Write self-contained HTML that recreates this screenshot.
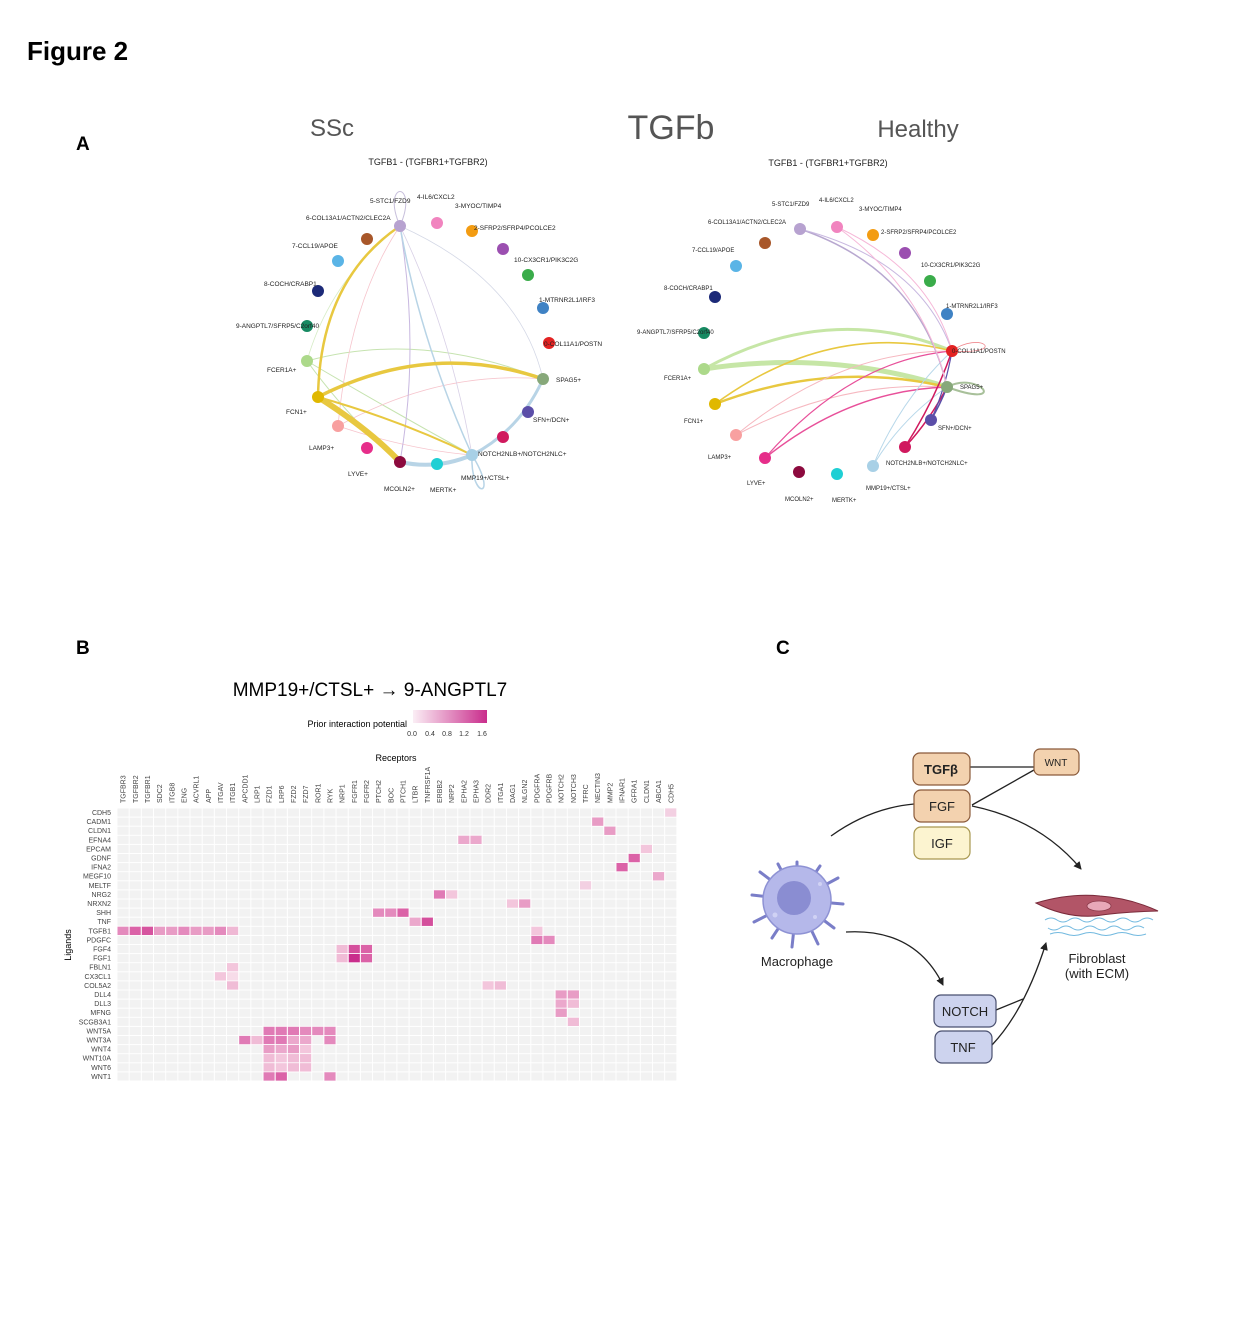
<!DOCTYPE html>
<html><head><meta charset="utf-8"><style>
html,body{margin:0;padding:0;background:#fff;}
svg{display:block;font-family:"Liberation Sans",sans-serif;}
</style></head><body>
<svg width="1248" height="1344" viewBox="0 0 1248 1344" xmlns="http://www.w3.org/2000/svg">
<defs>
<pattern id="grid" x="117" y="808" width="12.17" height="9.1" patternUnits="userSpaceOnUse">
<rect width="12.17" height="9.1" fill="#f2f2f2" stroke="#fff" stroke-width="1"/>
</pattern>
<linearGradient id="lg" x1="0" x2="1"><stop offset="0" stop-color="#fbeef5"/><stop offset="1" stop-color="#c92d8c"/></linearGradient>
<marker id="ar" markerWidth="8" markerHeight="8" refX="7" refY="4" orient="auto" markerUnits="userSpaceOnUse"><path d="M0,0 L8,4 L0,8 Z" fill="#222"/></marker>
</defs>

<text x="27" y="60" font-size="26" font-weight="bold">Figure 2</text>
<text x="76" y="150" font-size="19" font-weight="bold">A</text>
<text x="76" y="654" font-size="19" font-weight="bold">B</text>
<text x="776" y="654" font-size="19" font-weight="bold">C</text>

<text x="332" y="136" font-size="24" fill="#555" text-anchor="middle">SSc</text>
<text x="671" y="139" font-size="34" fill="#555" text-anchor="middle">TGFb</text>
<text x="918" y="137" font-size="24" fill="#555" text-anchor="middle">Healthy</text>

<!-- LEFT NETWORK -->
<g font-size="6.5" fill="#222">
<text x="428" y="165" font-size="9" text-anchor="middle">TGFB1 - (TGFBR1+TGFBR2)</text>
<g fill="none" stroke-linecap="round">
<path d="M400,226 C380,180 420,180 400,226" stroke="#c8c0dc" stroke-width="1"/>
<path d="M472,455 C470,500 500,500 472,455" stroke="#b8d4e6" stroke-width="1.5"/>
<path d="M307,361 Q420,330 543,379" stroke="#c6e3b0" stroke-width="1"/>
<path d="M307,361 Q390,410 472,455" stroke="#c6e3b0" stroke-width="1"/>
<path d="M307,361 Q350,420 400,462" stroke="#c6e3b0" stroke-width="1"/>
<path d="M307,361 Q330,280 400,226" stroke="#d6ecc6" stroke-width="0.8"/>
<path d="M338,426 Q440,370 543,379" stroke="#f6c4cc" stroke-width="0.8"/>
<path d="M338,426 Q410,450 472,455" stroke="#f6c4cc" stroke-width="0.8"/>
<path d="M338,426 Q350,300 400,226" stroke="#f6c4cc" stroke-width="0.8"/>
<path d="M400,226 Q520,280 543,379" stroke="#d4d8e6" stroke-width="0.8"/>
<path d="M400,226 Q450,330 472,455" stroke="#d8d0e6" stroke-width="0.8"/>
<path d="M400,226 Q420,350 400,462" stroke="#c8b8e0" stroke-width="1"/>
<path d="M400,226 Q420,340 472,455" stroke="#b8d4e6" stroke-width="1.5"/>
<path d="M318,397 Q320,280 400,226" stroke="#e8c840" stroke-width="2.5"/>
<path d="M318,397 Q430,340 543,379" stroke="#e8c840" stroke-width="3.5"/>
<path d="M318,397 Q370,430 400,462" stroke="#e8c840" stroke-width="6"/>
<path d="M318,397 Q400,420 472,455" stroke="#e8c840" stroke-width="2"/>
<path d="M472,455 Q520,430 543,379" stroke="#b8d4e6" stroke-width="3"/>
<path d="M400,462 Q437,470 472,455" stroke="#b8d4e6" stroke-width="4"/>
</g>
<circle cx="400" cy="226" r="6" fill="#b7a2d0"/>
<circle cx="437" cy="223" r="6" fill="#f184bf"/>
<circle cx="472" cy="231" r="6" fill="#f39c12"/>
<circle cx="503" cy="249" r="6" fill="#9b4fb0"/>
<circle cx="528" cy="275" r="6" fill="#3aac4a"/>
<circle cx="543" cy="308" r="6" fill="#3f82c4"/>
<circle cx="549" cy="343" r="6" fill="#e32222"/>
<circle cx="543" cy="379" r="6" fill="#87a87a"/>
<circle cx="528" cy="412" r="6" fill="#5b4ea8"/>
<circle cx="503" cy="437" r="6" fill="#d0195e"/>
<circle cx="472" cy="455" r="6" fill="#a8d0e6"/>
<circle cx="437" cy="464" r="6" fill="#1fcfd4"/>
<circle cx="400" cy="462" r="6" fill="#8c0a3e"/>
<circle cx="367" cy="448" r="6" fill="#e62e8a"/>
<circle cx="338" cy="426" r="6" fill="#f8a0a0"/>
<circle cx="318" cy="397" r="6" fill="#e0b800"/>
<circle cx="307" cy="361" r="6" fill="#acd98a"/>
<circle cx="307" cy="326" r="6" fill="#178a62"/>
<circle cx="318" cy="291" r="6" fill="#1c2a78"/>
<circle cx="338" cy="261" r="6" fill="#5ab4e6"/>
<circle cx="367" cy="239" r="6" fill="#a8572a"/>
<text x="370" y="203">5-STC1/FZD9</text>
<text x="417" y="199">4-IL6/CXCL2</text>
<text x="455" y="208">3-MYOC/TIMP4</text>
<text x="474" y="230">2-SFRP2/SFRP4/PCOLCE2</text>
<text x="514" y="262">10-CX3CR1/PIK3C2G</text>
<text x="539" y="302">1-MTRNR2L1/IRF3</text>
<text x="544" y="346">0-COL11A1/POSTN</text>
<text x="556" y="382">SPAG5+</text>
<text x="533" y="422">SFN+/DCN+</text>
<text x="478" y="456">NOTCH2NLB+/NOTCH2NLC+</text>
<text x="461" y="480">MMP19+/CTSL+</text>
<text x="430" y="492">MERTK+</text>
<text x="384" y="491">MCOLN2+</text>
<text x="348" y="476">LYVE+</text>
<text x="309" y="450">LAMP3+</text>
<text x="286" y="414">FCN1+</text>
<text x="267" y="372">FCER1A+</text>
<text x="236" y="328">9-ANGPTL7/SFRP5/C2orf40</text>
<text x="264" y="286">8-COCH/CRABP1</text>
<text x="292" y="248">7-CCL19/APOE</text>
<text x="306" y="220">6-COL13A1/ACTN2/CLEC2A</text>
</g>

<!-- RIGHT NETWORK -->
<g font-size="6" fill="#222">
<text x="828" y="166" font-size="9" text-anchor="middle">TGFB1 - (TGFBR1+TGFBR2)</text>
<g fill="none" stroke-linecap="round">
<path d="M952,351 C980,330 1010,355 952,351" stroke="#f08a90" stroke-width="0.8"/>
<path d="M947,387 C980,370 1010,410 947,387" stroke="#a8c09a" stroke-width="2"/>
<path d="M704,369 Q830,300 952,351" stroke="#c6e6a6" stroke-width="3"/>
<path d="M704,369 Q830,350 947,387" stroke="#c6e6a6" stroke-width="5"/>
<path d="M715,404 Q830,320 952,351" stroke="#e8c840" stroke-width="1.6"/>
<path d="M715,404 Q830,360 947,387" stroke="#e8c840" stroke-width="2.5"/>
<path d="M736,435 Q840,350 952,351" stroke="#f6b8c0" stroke-width="1"/>
<path d="M736,435 Q840,380 947,387" stroke="#f6b8c0" stroke-width="1"/>
<path d="M765,458 Q850,360 952,351" stroke="#e8509a" stroke-width="1.2"/>
<path d="M765,458 Q850,390 947,387" stroke="#e8509a" stroke-width="1.5"/>
<path d="M873,466 Q900,400 952,351" stroke="#b8d8ea" stroke-width="1"/>
<path d="M873,466 Q900,420 947,387" stroke="#b8d8ea" stroke-width="1"/>
<path d="M905,447 Q935,400 952,351" stroke="#d0195e" stroke-width="1.5"/>
<path d="M905,447 Q930,420 947,387" stroke="#d0195e" stroke-width="1.5"/>
<path d="M931,420 Q945,390 952,351" stroke="#5b4ea8" stroke-width="1.2"/>
<path d="M931,420 Q940,405 947,387" stroke="#5b4ea8" stroke-width="1.5"/>
<path d="M800,229 Q920,270 947,387" stroke="#b8a8d0" stroke-width="1.5"/>
<path d="M800,229 Q920,260 952,351" stroke="#c8b8e0" stroke-width="1"/>
<path d="M837,227 Q930,270 952,351" stroke="#f6b8d8" stroke-width="1"/>
<path d="M837,227 Q925,290 947,387" stroke="#f6b8d8" stroke-width="1"/>
</g>
<circle cx="800" cy="229" r="6" fill="#b7a2d0"/>
<circle cx="837" cy="227" r="6" fill="#f184bf"/>
<circle cx="873" cy="235" r="6" fill="#f39c12"/>
<circle cx="905" cy="253" r="6" fill="#9b4fb0"/>
<circle cx="930" cy="281" r="6" fill="#3aac4a"/>
<circle cx="947" cy="314" r="6" fill="#3f82c4"/>
<circle cx="952" cy="351" r="6" fill="#e32222"/>
<circle cx="947" cy="387" r="6" fill="#87a87a"/>
<circle cx="931" cy="420" r="6" fill="#5b4ea8"/>
<circle cx="905" cy="447" r="6" fill="#d0195e"/>
<circle cx="873" cy="466" r="6" fill="#a8d0e6"/>
<circle cx="837" cy="474" r="6" fill="#1fcfd4"/>
<circle cx="799" cy="472" r="6" fill="#8c0a3e"/>
<circle cx="765" cy="458" r="6" fill="#e62e8a"/>
<circle cx="736" cy="435" r="6" fill="#f8a0a0"/>
<circle cx="715" cy="404" r="6" fill="#e0b800"/>
<circle cx="704" cy="369" r="6" fill="#acd98a"/>
<circle cx="704" cy="333" r="6" fill="#178a62"/>
<circle cx="715" cy="297" r="6" fill="#1c2a78"/>
<circle cx="736" cy="266" r="6" fill="#5ab4e6"/>
<circle cx="765" cy="243" r="6" fill="#a8572a"/>
<text x="772" y="206">5-STC1/FZD9</text>
<text x="819" y="202">4-IL6/CXCL2</text>
<text x="859" y="211">3-MYOC/TIMP4</text>
<text x="881" y="234">2-SFRP2/SFRP4/PCOLCE2</text>
<text x="921" y="267">10-CX3CR1/PIK3C2G</text>
<text x="946" y="308">1-MTRNR2L1/IRF3</text>
<text x="952" y="353">0-COL11A1/POSTN</text>
<text x="960" y="389">SPAG5+</text>
<text x="938" y="430">SFN+/DCN+</text>
<text x="886" y="465">NOTCH2NLB+/NOTCH2NLC+</text>
<text x="866" y="490">MMP19+/CTSL+</text>
<text x="832" y="502">MERTK+</text>
<text x="785" y="501">MCOLN2+</text>
<text x="747" y="485">LYVE+</text>
<text x="708" y="459">LAMP3+</text>
<text x="684" y="423">FCN1+</text>
<text x="664" y="380">FCER1A+</text>
<text x="637" y="334">9-ANGPTL7/SFRP5/C2orf40</text>
<text x="664" y="290">8-COCH/CRABP1</text>
<text x="692" y="252">7-CCL19/APOE</text>
<text x="708" y="224">6-COL13A1/ACTN2/CLEC2A</text>
</g>

<!-- PANEL B heatmap -->
<text x="370" y="696" font-size="19" text-anchor="middle">MMP19+/CTSL+ → 9-ANGPTL7</text>
<text x="407" y="727" font-size="9" text-anchor="end">Prior interaction potential</text>
<rect x="413" y="710" width="74" height="13" fill="url(#lg)"/>
<g font-size="7" fill="#333" text-anchor="middle">
<text x="412" y="736">0.0</text><text x="430" y="736">0.4</text><text x="447" y="736">0.8</text><text x="464" y="736">1.2</text><text x="482" y="736">1.6</text>
</g>
<text x="396" y="761" font-size="9" text-anchor="middle">Receptors</text>
<text transform="translate(71,945) rotate(-90)" font-size="9" text-anchor="middle">Ligands</text>

<rect x="117" y="808" width="559.8" height="273" fill="url(#grid)"/>
<g transform="translate(117,808) scale(12.17,9.1)" stroke="#fff" stroke-width="0.08">
<rect x="45" y="0" width="1" height="1" fill="#f3d0e2"/>
<rect x="39" y="1" width="1" height="1" fill="#e89cc5"/>
<rect x="40" y="2" width="1" height="1" fill="#e89cc5"/>
<rect x="28" y="3" width="1" height="1" fill="#eba8cc"/>
<rect x="29" y="3" width="1" height="1" fill="#eba8cc"/>
<rect x="43" y="4" width="1" height="1" fill="#f3c6dc"/>
<rect x="42" y="5" width="1" height="1" fill="#db62a7"/>
<rect x="41" y="6" width="1" height="1" fill="#db62a7"/>
<rect x="44" y="7" width="1" height="1" fill="#eba8cc"/>
<rect x="38" y="8" width="1" height="1" fill="#f3d0e2"/>
<rect x="26" y="9" width="1" height="1" fill="#e07ab5"/>
<rect x="27" y="9" width="1" height="1" fill="#f3c6dc"/>
<rect x="32" y="10" width="1" height="1" fill="#f3c6dc"/>
<rect x="33" y="10" width="1" height="1" fill="#e89cc5"/>
<rect x="21" y="11" width="1" height="1" fill="#e48abd"/>
<rect x="22" y="11" width="1" height="1" fill="#e48abd"/>
<rect x="23" y="11" width="1" height="1" fill="#db62a7"/>
<rect x="24" y="12" width="1" height="1" fill="#eba8cc"/>
<rect x="25" y="12" width="1" height="1" fill="#d44f9c"/>
<rect x="0" y="13" width="1" height="1" fill="#e48abd"/>
<rect x="1" y="13" width="1" height="1" fill="#db62a7"/>
<rect x="2" y="13" width="1" height="1" fill="#d6549f"/>
<rect x="3" y="13" width="1" height="1" fill="#e89cc5"/>
<rect x="4" y="13" width="1" height="1" fill="#e89cc5"/>
<rect x="5" y="13" width="1" height="1" fill="#e48abd"/>
<rect x="6" y="13" width="1" height="1" fill="#e89cc5"/>
<rect x="7" y="13" width="1" height="1" fill="#e89cc5"/>
<rect x="8" y="13" width="1" height="1" fill="#e48abd"/>
<rect x="9" y="13" width="1" height="1" fill="#efb8d4"/>
<rect x="34" y="13" width="1" height="1" fill="#f3c6dc"/>
<rect x="34" y="14" width="1" height="1" fill="#e07ab5"/>
<rect x="35" y="14" width="1" height="1" fill="#e48abd"/>
<rect x="18" y="15" width="1" height="1" fill="#f0bcd6"/>
<rect x="19" y="15" width="1" height="1" fill="#d44f9c"/>
<rect x="20" y="15" width="1" height="1" fill="#db62a7"/>
<rect x="18" y="16" width="1" height="1" fill="#f0bcd6"/>
<rect x="19" y="16" width="1" height="1" fill="#c92d8c"/>
<rect x="20" y="16" width="1" height="1" fill="#db62a7"/>
<rect x="9" y="17" width="1" height="1" fill="#f3c6dc"/>
<rect x="8" y="18" width="1" height="1" fill="#f3c6dc"/>
<rect x="9" y="18" width="1" height="1" fill="#f7dce9"/>
<rect x="9" y="19" width="1" height="1" fill="#f0bcd6"/>
<rect x="30" y="19" width="1" height="1" fill="#f3c6dc"/>
<rect x="31" y="19" width="1" height="1" fill="#f0bcd6"/>
<rect x="36" y="20" width="1" height="1" fill="#e89cc5"/>
<rect x="37" y="20" width="1" height="1" fill="#e89cc5"/>
<rect x="36" y="21" width="1" height="1" fill="#eba8cc"/>
<rect x="37" y="21" width="1" height="1" fill="#f0bcd6"/>
<rect x="36" y="22" width="1" height="1" fill="#e89cc5"/>
<rect x="37" y="23" width="1" height="1" fill="#f0bcd6"/>
<rect x="12" y="24" width="1" height="1" fill="#e07ab5"/>
<rect x="13" y="24" width="1" height="1" fill="#e07ab5"/>
<rect x="14" y="24" width="1" height="1" fill="#e07ab5"/>
<rect x="15" y="24" width="1" height="1" fill="#e48abd"/>
<rect x="16" y="24" width="1" height="1" fill="#e48abd"/>
<rect x="17" y="24" width="1" height="1" fill="#e48abd"/>
<rect x="10" y="25" width="1" height="1" fill="#e07ab5"/>
<rect x="11" y="25" width="1" height="1" fill="#f0bcd6"/>
<rect x="12" y="25" width="1" height="1" fill="#e07ab5"/>
<rect x="13" y="25" width="1" height="1" fill="#e07ab5"/>
<rect x="14" y="25" width="1" height="1" fill="#eba8cc"/>
<rect x="15" y="25" width="1" height="1" fill="#eba8cc"/>
<rect x="17" y="25" width="1" height="1" fill="#e48abd"/>
<rect x="12" y="26" width="1" height="1" fill="#e89cc5"/>
<rect x="13" y="26" width="1" height="1" fill="#eba8cc"/>
<rect x="14" y="26" width="1" height="1" fill="#e89cc5"/>
<rect x="15" y="26" width="1" height="1" fill="#f3c6dc"/>
<rect x="12" y="27" width="1" height="1" fill="#f0bcd6"/>
<rect x="13" y="27" width="1" height="1" fill="#f3c6dc"/>
<rect x="14" y="27" width="1" height="1" fill="#f0bcd6"/>
<rect x="15" y="27" width="1" height="1" fill="#f0bcd6"/>
<rect x="12" y="28" width="1" height="1" fill="#f0bcd6"/>
<rect x="13" y="28" width="1" height="1" fill="#f3c6dc"/>
<rect x="14" y="28" width="1" height="1" fill="#f0bcd6"/>
<rect x="15" y="28" width="1" height="1" fill="#f0bcd6"/>
<rect x="12" y="29" width="1" height="1" fill="#e07ab5"/>
<rect x="13" y="29" width="1" height="1" fill="#db62a7"/>
<rect x="17" y="29" width="1" height="1" fill="#e48abd"/>
</g>
<g font-size="7" fill="#444" text-anchor="end">
<text x="111" y="815">CDH5</text><text x="111" y="824.1">CADM1</text><text x="111" y="833.2">CLDN1</text><text x="111" y="842.3">EFNA4</text><text x="111" y="851.4">EPCAM</text><text x="111" y="860.5">GDNF</text><text x="111" y="869.6">IFNA2</text><text x="111" y="878.7">MEGF10</text><text x="111" y="887.8">MELTF</text><text x="111" y="896.9">NRG2</text><text x="111" y="906">NRXN2</text><text x="111" y="915.1">SHH</text><text x="111" y="924.2">TNF</text><text x="111" y="933.3">TGFB1</text><text x="111" y="942.4">PDGFC</text><text x="111" y="951.5">FGF4</text><text x="111" y="960.6">FGF1</text><text x="111" y="969.7">FBLN1</text><text x="111" y="978.8">CX3CL1</text><text x="111" y="987.9">COL5A2</text><text x="111" y="997">DLL4</text><text x="111" y="1006.1">DLL3</text><text x="111" y="1015.2">MFNG</text><text x="111" y="1024.3">SCGB3A1</text><text x="111" y="1033.4">WNT5A</text><text x="111" y="1042.5">WNT3A</text><text x="111" y="1051.6">WNT4</text><text x="111" y="1060.7">WNT10A</text><text x="111" y="1069.8">WNT6</text><text x="111" y="1078.9">WNT1</text>
</g>
<g font-size="7" fill="#444">
<text transform="translate(125.6,803) rotate(-90)">TGFBR3</text>
<text transform="translate(137.8,803) rotate(-90)">TGFBR2</text>
<text transform="translate(149.9,803) rotate(-90)">TGFBR1</text>
<text transform="translate(162.1,803) rotate(-90)">SDC2</text>
<text transform="translate(174.3,803) rotate(-90)">ITGB8</text>
<text transform="translate(186.5,803) rotate(-90)">ENG</text>
<text transform="translate(198.6,803) rotate(-90)">ACVRL1</text>
<text transform="translate(210.8,803) rotate(-90)">APP</text>
<text transform="translate(223,803) rotate(-90)">ITGAV</text>
<text transform="translate(235.1,803) rotate(-90)">ITGB1</text>
<text transform="translate(247.3,803) rotate(-90)">APCDD1</text>
<text transform="translate(259.5,803) rotate(-90)">LRP1</text>
<text transform="translate(271.6,803) rotate(-90)">FZD1</text>
<text transform="translate(283.8,803) rotate(-90)">LRP6</text>
<text transform="translate(296,803) rotate(-90)">FZD2</text>
<text transform="translate(308.1,803) rotate(-90)">FZD7</text>
<text transform="translate(320.3,803) rotate(-90)">ROR1</text>
<text transform="translate(332.5,803) rotate(-90)">RYK</text>
<text transform="translate(344.7,803) rotate(-90)">NRP1</text>
<text transform="translate(356.8,803) rotate(-90)">FGFR1</text>
<text transform="translate(369,803) rotate(-90)">FGFR2</text>
<text transform="translate(381.2,803) rotate(-90)">PTCH2</text>
<text transform="translate(393.3,803) rotate(-90)">BOC</text>
<text transform="translate(405.5,803) rotate(-90)">PTCH1</text>
<text transform="translate(417.7,803) rotate(-90)">LTBR</text>
<text transform="translate(429.9,803) rotate(-90)">TNFRSF1A</text>
<text transform="translate(442,803) rotate(-90)">ERBB2</text>
<text transform="translate(454.2,803) rotate(-90)">NRP2</text>
<text transform="translate(466.4,803) rotate(-90)">EPHA2</text>
<text transform="translate(478.5,803) rotate(-90)">EPHA3</text>
<text transform="translate(490.7,803) rotate(-90)">DDR2</text>
<text transform="translate(502.9,803) rotate(-90)">ITGA1</text>
<text transform="translate(515,803) rotate(-90)">DAG1</text>
<text transform="translate(527.2,803) rotate(-90)">NLGN2</text>
<text transform="translate(539.4,803) rotate(-90)">PDGFRA</text>
<text transform="translate(551.6,803) rotate(-90)">PDGFRB</text>
<text transform="translate(563.7,803) rotate(-90)">NOTCH2</text>
<text transform="translate(575.9,803) rotate(-90)">NOTCH3</text>
<text transform="translate(588.1,803) rotate(-90)">TFRC</text>
<text transform="translate(600.2,803) rotate(-90)">NECTIN3</text>
<text transform="translate(612.4,803) rotate(-90)">MMP2</text>
<text transform="translate(624.6,803) rotate(-90)">IFNAR1</text>
<text transform="translate(636.7,803) rotate(-90)">GFRA1</text>
<text transform="translate(648.9,803) rotate(-90)">CLDN1</text>
<text transform="translate(661.1,803) rotate(-90)">ABCA1</text>
<text transform="translate(673.3,803) rotate(-90)">CDH5</text>
</g>

<!-- PANEL C -->
<g fill="none" stroke="#222" stroke-width="1.3">
<path d="M970,767 L1034,767"/>
<path d="M972,805 L1034,770"/>
<path d="M831,836 Q870,808 914,804"/>
<path d="M972,806 Q1040,820 1081,869" marker-end="url(#ar)"/>
<path d="M846,932 Q915,928 943,985" marker-end="url(#ar)"/>
<path d="M996,1010 L1023,999"/>
<path d="M992,1045 Q1025,1010 1046,943" marker-end="url(#ar)"/>
</g>
<rect x="913" y="753" width="57" height="32" rx="7" fill="#f3d2af" stroke="#8a5a3a" stroke-width="1.2"/>
<rect x="914" y="790" width="56" height="32" rx="7" fill="#f3d2af" stroke="#8a5a3a" stroke-width="1.2"/>
<rect x="914" y="827" width="56" height="32" rx="7" fill="#fcf4d0" stroke="#a89850" stroke-width="1.2"/>
<rect x="1034" y="749" width="45" height="26" rx="6" fill="#f3d2af" stroke="#8a5a3a" stroke-width="1.2"/>
<rect x="934" y="995" width="62" height="32" rx="7" fill="#cdd3ee" stroke="#4a5070" stroke-width="1.2"/>
<rect x="935" y="1031" width="57" height="32" rx="7" fill="#cdd3ee" stroke="#4a5070" stroke-width="1.2"/>
<g font-size="13" fill="#222" text-anchor="middle">
<text x="941" y="774" font-weight="bold">TGFβ</text>
<text x="942" y="811">FGF</text>
<text x="942" y="848">IGF</text>
<text x="1056" y="766" font-size="10">WNT</text>
<text x="965" y="1016">NOTCH</text>
<text x="963" y="1052">TNF</text>
<text x="797" y="966">Macrophage</text>
<text x="1097" y="963">Fibroblast</text>
<text x="1097" y="978">(with ECM)</text>
</g>
<!-- macrophage -->
<g stroke="#7a7ec8" stroke-width="3" stroke-linecap="round">
<path d="M797,900 L797,862 M797,900 L820,866 M797,900 L838,878 M797,900 L843,904 M797,900 L834,928 M797,900 L818,944 M797,900 L792,947 M797,900 L772,938 M797,900 L754,922 M797,900 L752,895 M797,900 L760,872 M797,900 L778,864"/>
</g>
<circle cx="797" cy="900" r="34" fill="#b5b8ea" stroke="#8e92d4" stroke-width="1.5"/>
<circle cx="794" cy="898" r="17" fill="#8a8dd2"/>
<circle cx="815" cy="917" r="2" fill="#d0d2f4"/><circle cx="775" cy="915" r="2.5" fill="#d0d2f4"/><circle cx="820" cy="884" r="2" fill="#d0d2f4"/>
<!-- fibroblast -->
<g stroke="#4fa8d8" stroke-width="1" fill="none" opacity="0.8">
<path d="M1045,920 q6,-4 12,0 t12,0 t12,0 t12,0 t12,0 t12,0 t12,0 t12,0 t12,0"/>
<path d="M1048,928 q6,4 12,0 t12,0 t12,0 t12,0 t12,0 t12,0 t12,0 t12,0"/>
<path d="M1050,934 q8,-3 16,0 t16,0 t16,0 t16,0 t16,0 t16,0"/>
</g>
<path d="M1036,903 Q1070,893 1100,896 Q1130,898 1158,911 Q1120,912 1095,916 Q1065,918 1036,903 Z" fill="#b25567" stroke="#7a2a3a" stroke-width="1"/>
<ellipse cx="1099" cy="906" rx="12" ry="5" fill="#e8a8b8" stroke="#8a3a4a" stroke-width="0.8"/>
</svg>
</body></html>
